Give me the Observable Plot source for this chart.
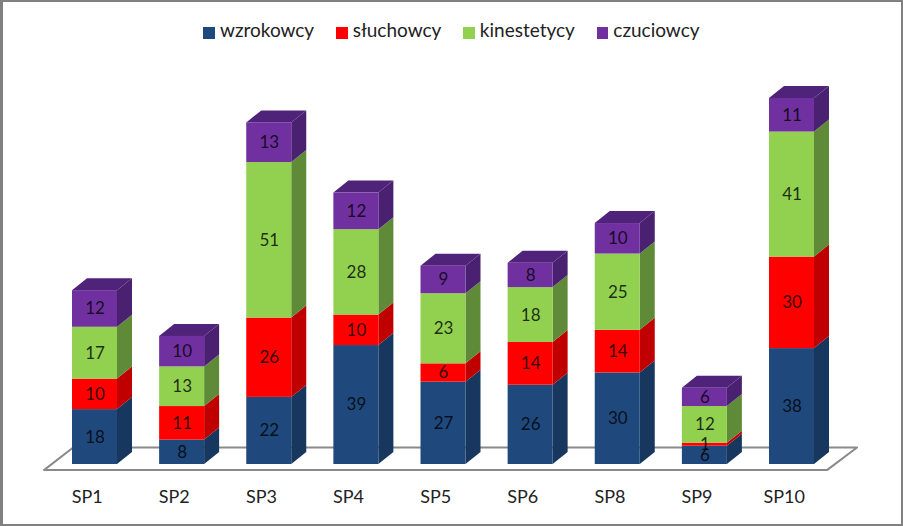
<!DOCTYPE html>
<html lang="pl">
<head>
<meta charset="utf-8">
<script src="https://cdn.jsdelivr.net/npm/d3@7"></script>
<script src="https://cdn.jsdelivr.net/npm/@observablehq/plot@0.6"></script>
<style>
  html, body { margin: 0; padding: 0; background: #fff; }
  #frame { box-sizing: border-box; width: 903px; height: 526px; overflow: hidden;
    border-style: solid; border-color: #808080; border-width: 2px 2px 2px 3px; background: #fff; }
  #legend { height: 46px; box-sizing: border-box; padding: 17px 0 0 0; display: flex; justify-content: center; gap: 22px;
    font: 19px Lato, sans-serif; color: #222; line-height: 24px; margin-left: -1px; }
  #legend .item { display: flex; align-items: flex-start; gap: 5px; height: 24px; margin-top: -1px; }
  #legend .label { display: block; }
  #legend .sw { width: 11.5px; height: 11.5px; display: block; margin-top: 9px; }
  svg { display: block; }
</style>
</head>
<body>
<div id="frame"><div id="legend"></div><div id="chart"></div></div>
<script>
const schools = ["SP1", "SP2", "SP3", "SP4", "SP5", "SP6", "SP8", "SP9", "SP10"];
const seriesNames = ["wzrokowcy", "słuchowcy", "kinestetycy", "czuciowcy"];
const wzrokowcy   = [18, 8, 22, 39, 27, 26, 30, 6, 38];
const sluchowcy   = [10, 11, 26, 10, 6, 14, 14, 1, 30];
const kinestetycy = [17, 13, 51, 28, 23, 18, 25, 12, 41];
const czuciowcy   = [12, 10, 13, 12, 9, 8, 10, 6, 11];
const seriesValues = [wzrokowcy, sluchowcy, kinestetycy, czuciowcy];
const frontColors = ["#1F497D", "#FF0000", "#92D050", "#7030A0"];
const sideColors  = ["#17375E", "#C00000", "#5F8B38", "#4A2070"];
const topColor = "#50237A";

// scale set-up (pixels per unit of each axis)
const W = 898, H = 476, pxX = 87.125, pxY = 3.05, x0 = 91.5, y0 = 416;
const halfBar = 22.5 / pxX;          // half a bar width in category units
const depthX = 15 / pxX, depthY = 12 / pxY;  // oblique depth, in axis units

const rows = [];
schools.forEach((school, i) => {
  let base = 0;
  seriesValues.forEach((vals, s) => {
    rows.push({school, i, s, value: vals[i], y1: base, y2: base + vals[i]});
    base += vals[i];
  });
});
const totals = schools.map((school, i) => ({school, i, total: d3.sum(seriesValues, v => v[i])}));

// oblique faces as areas in data units
const side = rows.flatMap(r => {
  const xr = r.i + halfBar, id = r.i + "-" + r.s;
  return [
    {id, s: r.s, x: xr, lo: r.y1, hi: r.y2},
    {id, s: r.s, x: xr + depthX, lo: r.y1 + depthY, hi: r.y2 + depthY}
  ];
});
const tops = totals.flatMap(t => {
  const l = t.i - halfBar, r = t.i + halfBar, id = t.i;
  return [
    {id, x: l, lo: t.total, hi: t.total},
    {id, x: l + depthX, lo: t.total, hi: t.total + depthY},
    {id, x: r, lo: t.total, hi: t.total + depthY},
    {id, x: r + depthX, lo: t.total + depthY, hi: t.total + depthY}
  ];
});
// floor plane
const fLeft = -0.58, fRight = 8.407, fFront = -2, fBack = 5.4;
const floor = [
  {x: fLeft, lo: fFront, hi: fFront},
  {x: fLeft + 0.335, lo: fFront, hi: fBack},
  {x: fRight, lo: fFront, hi: fBack},
  {x: fRight + 0.345, lo: fBack, hi: fBack}
];

const plot = Plot.plot({
  width: W, height: H,
  marginTop: 0, marginRight: 0, marginBottom: 0, marginLeft: 0,
  style: {background: "transparent"},
  x: {axis: null, type: "linear", domain: [-x0 / pxX, (W - x0) / pxX], range: [0, W]},
  y: {axis: null, type: "linear", domain: [-(H - y0) / pxY, y0 / pxY], range: [H, 0]},
  marks: [
    Plot.area(floor, {x1: "x", y1: "lo", y2: "hi", fill: "#fff", stroke: "#8a8a8a", strokeWidth: 2}),
    Plot.area(side, {x1: "x", y1: "lo", y2: "hi", z: "id", fill: d => sideColors[d.s]}),
    Plot.area(tops, {x1: "x", y1: "lo", y2: "hi", z: "id", fill: topColor}),
    Plot.rect(rows, {x1: r => r.i - halfBar, x2: r => r.i + halfBar, y1: "y1", y2: "y2", fill: r => frontColors[r.s]}),
    Plot.text(rows, {x: "i", y: r => (r.y1 + r.y2) / 2, text: "value", fill: "#000", fillOpacity: 0.8,
      fontFamily: "Lato, sans-serif", fontSize: 17, lineAnchor: "middle"}),
    Plot.text(schools, {x: (d, i) => i - 0.09, y: -10.8, text: d => d, fill: "#222",
      fontFamily: "Lato, sans-serif", fontSize: 18, lineAnchor: "middle"})
  ]
});
document.getElementById("chart").append(plot);

const legend = document.getElementById("legend");
seriesNames.forEach((name, s) => {
  const item = document.createElement("span");
  item.className = "item";
  const sw = document.createElement("span");
  sw.className = "sw";
  sw.style.background = frontColors[s];
  const label = document.createElement("span");
  label.className = "label";
  label.textContent = name;
  item.append(sw, label);
  legend.append(item);
});
</script>
</body>
</html>
